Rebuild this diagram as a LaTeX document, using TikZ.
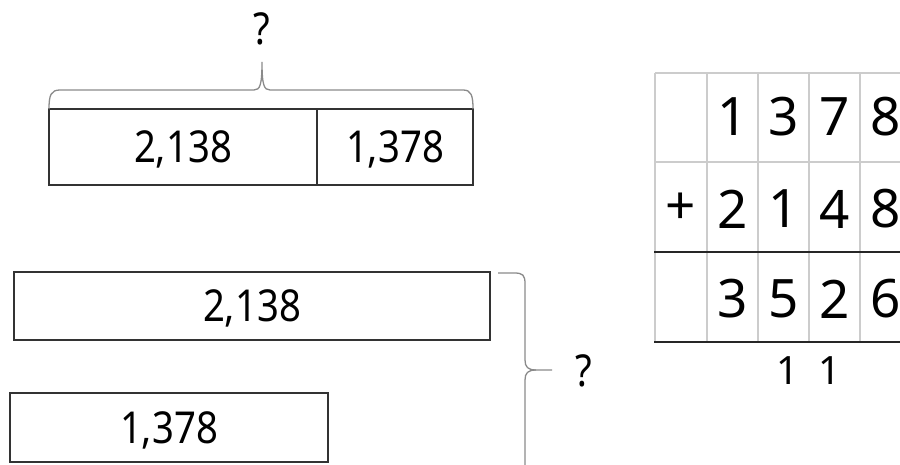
\documentclass[tikz,border=0pt]{standalone}
\usepackage{fontspec}
\setmainfont{Noto Sans}
\newfontfamily\barfont[FakeStretch=0.87]{Noto Sans}
\usepackage{tikz}
\usetikzlibrary{positioning}

\definecolor{boxline}{HTML}{333333}
\definecolor{braceline}{HTML}{8A8A8A}
\definecolor{gridline}{HTML}{CCCCCC}

\tikzset{
  numbox/.style={draw=boxline, line width=1.6pt, inner sep=0pt, outer sep=0pt,
    minimum height=76pt, text depth=0pt, anchor=north west,
    font=\barfont\fontsize{44}{44}\selectfont},
  bracel/.style={draw=braceline, line width=1.3pt},
  cell/.style={inner sep=0pt, font=\fontsize{53}{53}\selectfont},
  carry/.style={inner sep=0pt, font=\fontsize{39}{39}\selectfont},
  ask/.style={inner sep=0pt, font=\barfont\fontsize{44}{44}\selectfont},
}

\begin{document}
\begin{tikzpicture}[x=1pt,y=-1pt]
\useasboundingbox (0,0) rectangle (900,465);

% part-whole bar
\node[numbox, minimum width=268pt] (sumleft) at (49,109) {2,138};
\node[numbox, minimum width=156pt, right=0pt of sumleft] (sumright) {1,378};
\draw[bracel] (sumleft.north west) .. controls (49,95) and (51,90) .. (60,90) -- (254,90)
  .. controls (260,90) and (262,85) .. (262,62)
  .. controls (262,85) and (264,90) .. (270,90) -- (463,90)
  .. controls (471,90) and (473,95) .. (sumright.north east);
\node[ask] (asktop) at (262,29) {?};

% comparison bars
\node[numbox, minimum width=476pt, minimum height=68pt] (barbig) at (14,272) {2,138};
\node[numbox, minimum width=318pt, minimum height=69pt] (barsmall) at (10,393) {1,378};
\draw[bracel] (498,273) -- (514,273) .. controls (523,273) and (525,275) .. (525,284)
  -- (525,360) .. controls (525,367) and (528,370) .. (536,370) -- (552,370);
\draw[bracel] (536,370) .. controls (528,370) and (525,373) .. (525,380) -- (525,465);
\node[ask] (askside) at (584,371) {?};

% column addition
\draw[gridline, line width=1.8pt] (655,73) -- (900,73);
\draw[gridline, line width=1.8pt] (655,162) -- (900,162);
\draw[gridline, line width=1.8pt] (655,73) -- (655,342);
\draw[gridline, line width=1.8pt] (707,73) -- (707,342);
\draw[gridline, line width=1.8pt] (758,73) -- (758,342);
\draw[gridline, line width=1.8pt] (809,73) -- (809,342);
\draw[gridline, line width=1.8pt] (860,73) -- (860,342);
\draw[black!85, line width=2.6pt] (654,252) -- (900,252);
\draw[black!85, line width=2.6pt] (654,342) -- (900,342);

\node[cell] (top2) at (732.5,117) {1};
\node[cell] (top3) at (783.5,117) {3};
\node[cell] (top4) at (834.5,117) {7};
\node[cell] (top5) at (885.5,117) {8};
\node[cell] (plus) at (681,209) {+};
\node[cell] (mid2) at (732.5,209) {2};
\node[cell] (mid3) at (783.5,209) {1};
\node[cell] (mid4) at (834.5,209) {4};
\node[cell] (mid5) at (885.5,209) {8};
\node[cell] (res2) at (732.5,299) {3};
\node[cell] (res3) at (783.5,299) {5};
\node[cell] (res4) at (834.5,299) {2};
\node[cell] (res5) at (885.5,299) {6};
\node[carry] (carry3) at (788,371) {1};
\node[carry] (carry4) at (830,371) {1};
\end{tikzpicture}
\end{document}
